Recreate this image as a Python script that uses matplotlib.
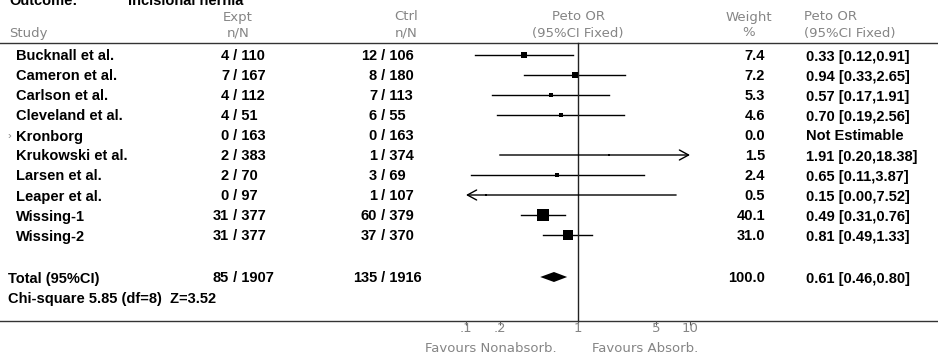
# ---------------------- Import libraries

import numpy as np
import matplotlib
matplotlib.use('Agg')
import matplotlib.pyplot as plt

# ---------------------- Data

studies = ['Bucknall et al.', 'Cameron et al.', 'Carlson et al.', 'Cleveland et al.',
           'Kronborg', 'Krukowski et al.', 'Larsen et al.', 'Leaper et al.',
           'Wissing-1', 'Wissing-2']
expt_n = [4, 7, 4, 4, 0, 2, 2, 0, 31, 31]
expt_N = [110, 167, 112, 51, 163, 383, 70, 97, 377, 377]
ctrl_n = [12, 8, 7, 6, 0, 1, 3, 1, 60, 37]
ctrl_N = [106, 180, 113, 55, 163, 374, 69, 107, 379, 370]
weight = [7.4, 7.2, 5.3, 4.6, 0.0, 1.5, 2.4, 0.5, 40.1, 31.0]
peto_or = [0.33, 0.94, 0.57, 0.70, np.nan, 1.91, 0.65, 0.15, 0.49, 0.81]
ci_lo = [0.12, 0.33, 0.17, 0.19, np.nan, 0.20, 0.11, 0.00, 0.31, 0.49]
ci_hi = [0.91, 2.65, 1.91, 2.56, np.nan, 18.38, 3.87, 7.52, 0.76, 1.33]

total_expt = (85, 1907)
total_ctrl = (135, 1916)
total_weight = 100.0
total_or = 0.61
total_lo = 0.46
total_hi = 0.80
het_text = 'Chi-square 5.85 (df=8)  Z=3.52'

tick_vals = [0.1, 0.2, 1, 5, 10]
tick_labels = ['.1', '.2', '1', '5', '10']
x_min, x_max = 0.1, 10

# ---------------------- Layout (pixels)

W, H = 938, 356
row_y0 = 55       # first study row centre
row_dy = 20       # row spacing
total_y = 277
chi_y = 297
head_line_y = 43
bottom_line_y = 321

bold = dict(family=['Liberation Sans', 'DejaVu Sans'], fontweight='bold', fontsize=10.5, color='black')
grey = dict(family=['DejaVu Sans'], fontsize=9.5, color='#858585')

plt.rcParams['font.family'] = ['Liberation Sans', 'DejaVu Sans']

fig = plt.figure(figsize=(W / 100, H / 100), dpi=100)
ax = fig.add_axes([0, 0, 1, 1])
ax.set_xlim(0, W)
ax.set_ylim(H, 0)
ax.axis('off')

# forest plot axes, log scale between .1 and 10
fx0, fx1 = 466, 690
axf = fig.add_axes([fx0 / W, 0, (fx1 - fx0) / W, 1])
axf.set_xscale('log')
axf.set_xlim(x_min, x_max)
axf.set_ylim(H, 0)
axf.axis('off')

# ---------------------- Title and headers

ax.text(9, 5, 'Outcome:', va='baseline', ha='left', **bold)
ax.text(128, 5, 'Incisional hernia', va='baseline', ha='left', **bold)

ax.text(9, 33, 'Study', va='center', ha='left', **grey)
ax.text(238, 17, 'Expt', va='center', ha='center', **grey)
ax.text(238, 33, 'n/N', va='center', ha='center', **grey)
ax.text(406, 17, 'Ctrl', va='center', ha='center', **grey)
ax.text(406, 33, 'n/N', va='center', ha='center', **grey)
ax.text(578, 17, 'Peto OR', va='center', ha='center', **grey)
ax.text(578, 33, '(95%CI Fixed)', va='center', ha='center', **grey)
ax.text(749, 17, 'Weight', va='center', ha='center', **grey)
ax.text(749, 33, '%', va='center', ha='center', **grey)
ax.text(804, 17, 'Peto OR', va='center', ha='left', **grey)
ax.text(804, 33, '(95%CI Fixed)', va='center', ha='left', **grey)

ax.plot([0, W], [head_line_y, head_line_y], color='#333333', linewidth=1)
ax.plot([0, W], [bottom_line_y, bottom_line_y], color='#333333', linewidth=1)

# ---------------------- Study rows

for i, name in enumerate(studies):
    y = row_y0 + i * row_dy
    yb = y + 5.5
    ax.text(16, yb, name, va='baseline', ha='left', **bold)
    ax.text(229, yb, str(expt_n[i]), va='baseline', ha='right', **bold)
    ax.text(229, yb, ' / ' + str(expt_N[i]), va='baseline', ha='left', **bold)
    ax.text(377, yb, str(ctrl_n[i]), va='baseline', ha='right', **bold)
    ax.text(377, yb, ' / ' + str(ctrl_N[i]), va='baseline', ha='left', **bold)
    ax.text(765, yb, '%.1f' % weight[i], va='baseline', ha='right', **bold)

    if np.isnan(peto_or[i]):
        ax.text(806, yb, 'Not Estimable', va='baseline', ha='left', **bold)
        ax.text(8, y + 1, '›', va='center', ha='left', fontsize=8, color='#888888')
        continue
    ax.text(806, yb, '%.2f [%.2f,%.2f]' % (peto_or[i], ci_lo[i], ci_hi[i]),
            va='baseline', ha='left', **bold)

    lo = max(ci_lo[i], x_min)
    hi = min(ci_hi[i], x_max)
    if ci_hi[i] > x_max:
        axf.annotate('', xy=(hi, y), xytext=(lo, y), annotation_clip=False,
                     arrowprops=dict(arrowstyle='->,head_length=0.55,head_width=0.3',
                                     color='black', lw=1, shrinkA=0, shrinkB=0,
                                     mutation_scale=12))
    elif ci_lo[i] < x_min:
        axf.annotate('', xy=(lo, y), xytext=(hi, y), annotation_clip=False,
                     arrowprops=dict(arrowstyle='->,head_length=0.55,head_width=0.3',
                                     color='black', lw=1, shrinkA=0, shrinkB=0,
                                     mutation_scale=12))
    else:
        axf.plot([lo, hi], [y, y], color='black', linewidth=1, clip_on=False)

    side_px = max(1.95 * np.sqrt(weight[i]), 2.5)
    axf.scatter([peto_or[i]], [y], marker='s', s=(side_px * 0.72) ** 2,
                color='black', linewidths=0, zorder=3, clip_on=False)

# ---------------------- Total and heterogeneity

yb = total_y + 5.5
ax.text(8, yb, 'Total (95%CI)', va='baseline', ha='left', **bold)
ax.text(229, yb, str(total_expt[0]), va='baseline', ha='right', **bold)
ax.text(229, yb, ' / ' + str(total_expt[1]), va='baseline', ha='left', **bold)
ax.text(377, yb, str(total_ctrl[0]), va='baseline', ha='right', **bold)
ax.text(377, yb, ' / ' + str(total_ctrl[1]), va='baseline', ha='left', **bold)
ax.text(765, yb, '%.1f' % total_weight, va='baseline', ha='right', **bold)
ax.text(806, yb, '%.2f [%.2f,%.2f]' % (total_or, total_lo, total_hi),
        va='baseline', ha='left', **bold)
ax.text(8, chi_y + 5.5, het_text, va='baseline', ha='left', **bold)

axf.fill([total_lo, total_or, total_hi, total_or],
         [total_y, total_y - 5, total_y, total_y + 5],
         color='black', linewidth=0, clip_on=False)

# ---------------------- Reference line and axis

axf.plot([1, 1], [head_line_y, bottom_line_y], color='#222222', linewidth=1, clip_on=False)
axf.vlines(tick_vals, bottom_line_y, bottom_line_y + 4, color='#555555', linewidth=0.8,
           clip_on=False)
for v, lab in zip(tick_vals, tick_labels):
    axf.text(v, 329, lab, va='center', ha='center', clip_on=False, **grey)

ax.text(557, 348, 'Favours Nonabsorb.', va='center', ha='right', **grey)
ax.text(592, 348, 'Favours Absorb.', va='center', ha='left', **grey)

fig.savefig('out.png', dpi=100)
